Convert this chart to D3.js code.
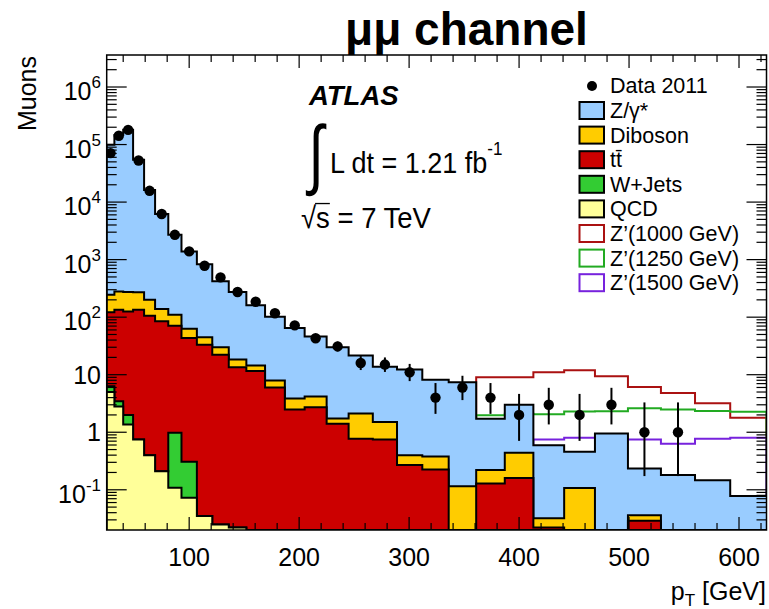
<!DOCTYPE html>
<html>
<head>
<meta charset="utf-8">
<script src="https://cdn.jsdelivr.net/npm/d3@7"></script>
<style>
  body { margin: 0; background: #fff; }
  svg { display: block; font-family: "Liberation Sans", Arial, Helvetica, sans-serif; }
</style>
</head>
<body>
<svg id="chart" width="769" height="609"></svg>
<script>
// Bin edges of the muon pT histogram [GeV]
const binEdges = [25, 32, 40, 49, 59, 69, 81, 93, 107, 121, 136, 152, 169, 187, 205,
                  225, 245, 267, 289, 312, 336, 361, 387, 413, 441, 469, 499, 529, 560, 592, 625];

// Expected muons per bin, by process
const zgamma  = [98650, 146700, 179700, 53930, 16100, 6060, 2590, 1317, 785, 390, 256, 146, 94, 61, 42,
                 28.3, 19.4, 12.3, 11.9, 7.8, 7.3, 1.49, 2.56, 0.56, 0.35, 0.95, 0.198, 0.18, 0.147, 0.078];
const diboson = [123, 145, 148, 135, 95, 54, 39, 19.5, 11.6, 7.7, 4.9, 2.9, 1.9, 1.37, 1.48,
                 0.33, 1.34, 0.76, 0.13, 0.155, 0.115, 0.092, 0.28, 0.010, 0.107, 0, 0.007, 0, 0, 0];
const ttbar   = [116, 131, 124, 134, 105, 85, 70, 43.2, 33, 22.3, 13.4, 11.6, 6.0, 2.48, 2.72,
                 1.4, 0.77, 0.75, 0.27, 0.225, 0, 0.128, 0.16, 0.022, 0, 0, 0.029, 0, 0, 0];
const wjets   = [1.3, 0.65, 0.64, 0, 0, 0, 0.87, 0.233, 0, 0, 0, 0, 0, 0, 0,
                 0, 0, 0, 0, 0, 0, 0, 0, 0, 0, 0, 0, 0, 0, 0];
const qcd     = [5.0, 2.8, 1.36, 0.75, 0.40, 0.21, 0.108, 0.073, 0.035, 0.025, 0.022, 0, 0, 0, 0,
                 0, 0, 0, 0, 0, 0, 0, 0, 0, 0, 0, 0, 0, 0, 0];

// Observed muons (2011) with the lower / upper ends of their error bars
const dataCounts = [71000, 142000, 180000, 52800, 15700, 6200, 2700, 1390, 783, 491, 274, 185, 117, 72, 43,
                    31, 16, 15, 11, 4, 6, 4, 2, 3, 2, 3, 1, 1, null, null];
const dataLow    = [70734, 141623, 179576, 52570, 15575, 6121, 2648, 1353, 755, 469, 257.5, 171.4, 106.2, 63.5, 36.4,
                    25.5, 12.05, 11.17, 7.74, 2.086, 3.62, 2.086, 0.708, 1.367, 0.708, 1.367, 0.173, 0.173, null, null];
const dataHigh   = [71266, 142377, 180424, 53030, 15825, 6279, 2752, 1427, 811, 513, 290.5, 198.6, 127.8, 80.5, 50.6,
                    37.6, 21.08, 19.95, 15.41, 7.163, 9.584, 7.163, 4.638, 5.918, 4.638, 5.918, 3.300, 3.300, null, null];

// Z' signal hypotheses (null where the histogram lies under the SM stack)
const zp1000 = [null, null, null, null, null, null, null, null, null, null, null, null, null, null, null,
                null, null, null, null, null, null, 9.0, 9.0, 11.0, 11.9, 9.4, 6.1, 4.8, 3.2, 1.78];
const zp1250 = [null, null, null, null, null, null, null, null, null, null, null, null, null, null, null,
                null, null, null, null, null, null, 1.97, 2.1, 2.05, 2.3, 2.32, 2.62, 2.49, 2.35, 2.26];
const zp1500 = [null, null, null, null, null, null, null, null, null, null, null, null, null, null, null,
                null, null, null, null, null, null, null, null, 0.75, 0.80, 0.78, 0.75, 0.63, 0.77, 0.80];

const xTickLabels = [100, 200, 300, 400, 500, 600];
const yTickExponents = [-1, 0, 1, 2, 3, 4, 5, 6];

const processKeys   = ["qcd", "wjets", "ttbar", "diboson", "zgamma"];
const processColors = { zgamma: "#99ccff", diboson: "#ffcc00", ttbar: "#cc0000", wjets: "#33cc33", qcd: "#ffff99" };
const legendEntries = [
  { label: "Z/\u03b3*", type: "fill", color: processColors.zgamma },
  { label: "Diboson",   type: "fill", color: processColors.diboson },
  { label: "tt\u0304",  type: "fill", color: processColors.ttbar },
  { label: "W+Jets",    type: "fill", color: processColors.wjets },
  { label: "QCD",       type: "fill", color: processColors.qcd },
  { label: "Z\u2019(1000 GeV)", type: "line", color: "#aa1111" },
  { label: "Z\u2019(1250 GeV)", type: "line", color: "#22aa22" },
  { label: "Z\u2019(1500 GeV)", type: "line", color: "#7722dd" }
];

const svg = d3.select("#chart");
const plot = { left: 106.7, right: 766.5, top: 55, bottom: 530 };

const x = d3.scaleLinear().domain([binEdges[0], binEdges[binEdges.length - 1]]).range([plot.left, plot.right]);
const y = d3.scaleLog().domain([0.02, 3.6e6]).range([plot.bottom, plot.top]);
const yc = v => (v == null || v <= 0) ? plot.bottom : Math.max(plot.top, Math.min(plot.bottom, y(v)));

// Stack the SM processes bin by bin
const rows = binEdges.slice(0, -1).map((e, i) => ({
  qcd: qcd[i], wjets: wjets[i], ttbar: ttbar[i], diboson: diboson[i], zgamma: zgamma[i]
}));
const stacked = d3.stack().keys(processKeys)(rows);

function stepLine(tops, start = 0) {
  let p = `M${x(binEdges[start])},${plot.bottom}`;
  for (let i = start; i < tops.length; i++) {
    if (tops[i] == null) continue;
    p += `V${yc(tops[i])}H${x(binEdges[i + 1])}`;
  }
  return p;
}
function stepArea(tops) {
  return stepLine(tops) + `V${plot.bottom}Z`;
}

const clipId = "plotClip";
svg.append("clipPath").attr("id", clipId).append("rect")
  .attr("x", plot.left).attr("y", plot.top)
  .attr("width", plot.right - plot.left).attr("height", plot.bottom - plot.top);
const g = svg.append("g").attr("clip-path", `url(#${clipId})`);

// Z' curves sit behind the SM stack
const signals = [[zp1000, "#aa1111"], [zp1250, "#22aa22"], [zp1500, "#7722dd"]];
signals.forEach(([vals, col]) => {
  const first = vals.findIndex(v => v != null);
  g.append("path").attr("d", stepLine(vals, first) + `V${plot.bottom}`)
    .attr("fill", "none").attr("stroke", col).attr("stroke-width", 2);
});

// SM stack, drawn from the cumulative total downwards
for (let k = stacked.length - 1; k >= 0; k--) {
  const tops = stacked[k].map(d => d[1]);
  g.append("path").attr("d", stepArea(tops))
    .attr("fill", processColors[processKeys[k]]).attr("stroke", "none");
  g.append("path").attr("d", stepLine(tops))
    .attr("fill", "none").attr("stroke", "#000").attr("stroke-width", 2);
}

// Frame
svg.append("rect").attr("x", plot.left).attr("y", plot.top)
  .attr("width", plot.right - plot.left).attr("height", plot.bottom - plot.top)
  .attr("fill", "none").attr("stroke", "#000").attr("stroke-width", 1.5);

// Y axis ticks (both sides, pointing inwards)
const yMajor = yTickExponents.map(e => Math.pow(10, e));
const yMinor = [];
for (let e = -2; e <= 6; e++) for (let m = 2; m <= 9; m++) {
  const v = m * Math.pow(10, e);
  if (v > 0.02 && v < 3.6e6) yMinor.push(v);
}
const axisG = svg.append("g").attr("stroke", "#000").attr("stroke-width", 1.2);
yMajor.forEach(v => {
  axisG.append("line").attr("x1", plot.left).attr("x2", plot.left + 20).attr("y1", y(v)).attr("y2", y(v));
  axisG.append("line").attr("x1", plot.right).attr("x2", plot.right - 20).attr("y1", y(v)).attr("y2", y(v));
});
yMinor.forEach(v => {
  axisG.append("line").attr("x1", plot.left).attr("x2", plot.left + 10).attr("y1", y(v)).attr("y2", y(v));
  axisG.append("line").attr("x1", plot.right).attr("x2", plot.right - 10).attr("y1", y(v)).attr("y2", y(v));
});
// X axis ticks (bottom and top)
const xMinor = d3.range(40, 625, 20);
xMinor.forEach(v => {
  const len = (v % 100 === 0) ? 13 : 7;
  axisG.append("line").attr("x1", x(v)).attr("x2", x(v)).attr("y1", plot.bottom).attr("y2", plot.bottom - len);
  axisG.append("line").attr("x1", x(v)).attr("x2", x(v)).attr("y1", plot.top).attr("y2", plot.top + len);
});

// Tick labels
xTickLabels.forEach(v => {
  svg.append("text").attr("x", x(v)).attr("y", 566).attr("text-anchor", "middle")
    .attr("font-size", 25).text(v);
});
yTickExponents.forEach(e => {
  const plain = e === 0 || e === 1;
  const t = svg.append("text").attr("x", 101).attr("y", y(Math.pow(10, e)) + (plain ? 9 : 13))
    .attr("text-anchor", "end").attr("font-size", 25);
  if (e === 0) t.text("1");
  else if (e === 1) t.text("10");
  else {
    t.append("tspan").text("10");
    t.append("tspan").attr("font-size", 17).attr("dy", -12).text(e);
  }
});

// Axis titles
svg.append("text").attr("transform", "translate(36,56) rotate(-90)")
  .attr("text-anchor", "end").attr("font-size", 25).text("Muons");
const xt = svg.append("text").attr("x", 766).attr("y", 600).attr("text-anchor", "end").attr("font-size", 25);
xt.append("tspan").text("p");
xt.append("tspan").attr("font-size", 17).attr("dy", 6).text("T");
xt.append("tspan").attr("dy", -6).text(" [GeV]");

// Title
svg.append("text").attr("x", 345).attr("y", 45).attr("font-size", 46).attr("font-weight", "bold")
  .text("\u03bc\u03bc channel");

// ATLAS label, integrated luminosity and centre-of-mass energy
svg.append("text").attr("x", 309).attr("y", 105).attr("font-size", 27.5)
  .attr("font-weight", "bold").attr("font-style", "italic").text("ATLAS");
svg.append("text").attr("transform", "translate(308.5,180) scale(0.72,1)")
  .attr("font-size", 77).text("\u222b");
const lum = svg.append("text").attr("transform", "translate(330,173) scale(1,1.1)").attr("font-size", 27);
lum.append("tspan").text("L dt = 1.21 fb");
lum.append("tspan").attr("font-size", 17).attr("dy", -16).text("-1");

const rootG = svg.append("g").attr("transform", "translate(301,228) scale(1,1.1)");
const rootText = rootG.append("text").attr("x", 0).attr("y", 0).attr("font-size", 27.5).text("\u221as = 7 TeV");
// overbar of the square root, spanning the radicand
const rad = rootText.node().getExtentOfChar(0);
const sBox = rootText.node().getExtentOfChar(1);
rootG.append("line")
  .attr("x1", rad.x + rad.width - 1).attr("x2", sBox.x + sBox.width)
  .attr("y1", rad.y + 2.5).attr("y2", rad.y + 2.5)
  .attr("stroke", "#000").attr("stroke-width", 1.2);

// Legend
const leg = svg.append("g");
leg.append("circle").attr("cx", 592).attr("cy", 86).attr("r", 5).attr("fill", "#000");
leg.append("text").attr("x", 610).attr("y", 93).attr("font-size", 21.5).text("Data 2011");
legendEntries.forEach((d, i) => {
  const cy = 110.5 + i * 24.6;
  leg.append("rect").attr("x", 579.5).attr("y", cy - 8.5).attr("width", 24.5).attr("height", 17)
    .attr("fill", d.type === "fill" ? d.color : "#fff")
    .attr("stroke", d.type === "fill" ? "#000" : d.color).attr("stroke-width", 2);
  leg.append("text").attr("x", 610).attr("y", cy + 7.5).attr("font-size", 21.5).text(d.label);
});

// Data points with error bars
const dg = svg.append("g").attr("clip-path", `url(#${clipId})`);
dataCounts.forEach((n, i) => {
  if (n == null) return;
  const cx = x((binEdges[i] + binEdges[i + 1]) / 2);
  dg.append("line").attr("x1", cx).attr("x2", cx).attr("y1", yc(dataLow[i])).attr("y2", yc(dataHigh[i]))
    .attr("stroke", "#000").attr("stroke-width", 2);
  dg.append("circle").attr("cx", cx).attr("cy", y(n)).attr("r", 5.2).attr("fill", "#000");
});
</script>
</body>
</html>
